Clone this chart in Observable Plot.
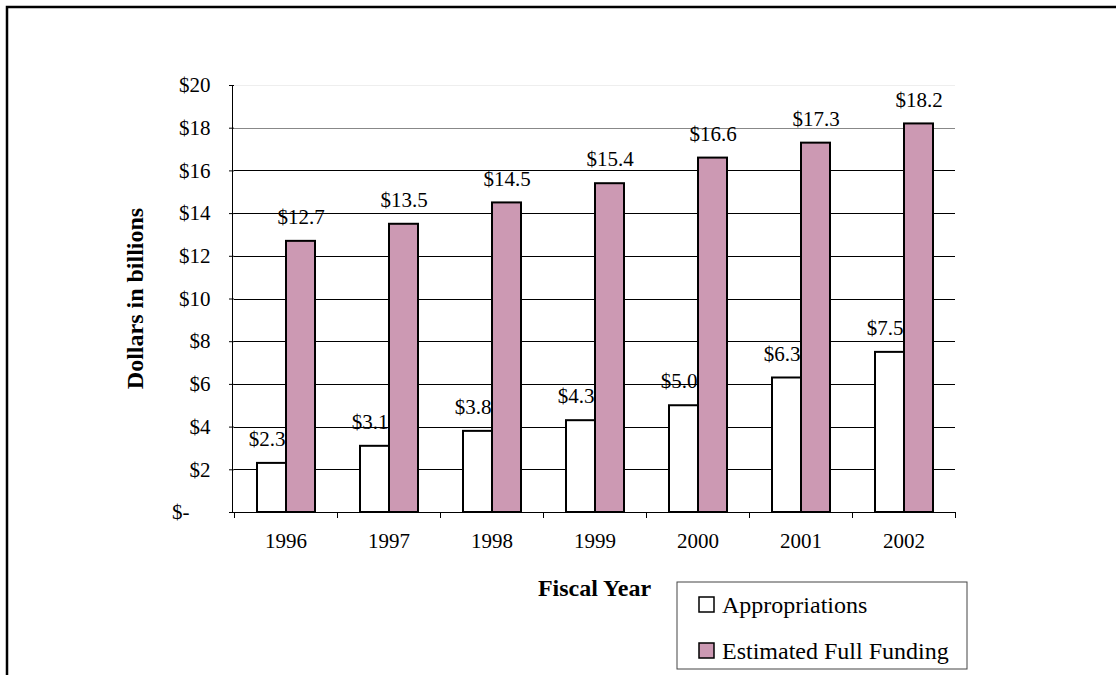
<!DOCTYPE html>
<html>
<head>
<meta charset="utf-8">
<script src="https://cdn.jsdelivr.net/npm/d3@7"></script>
<script src="https://cdn.jsdelivr.net/npm/@observablehq/plot@0.6"></script>
<style>
  html, body { margin: 0; padding: 0; background: white; }
  #chart { position: relative; width: 1116px; height: 675px; overflow: hidden; }
  #chart svg, #chart svg text { font-family: "Liberation Serif", "Times New Roman", serif; }
</style>
</head>
<body>
<div id="chart"></div>
<script>
const years = ["1996", "1997", "1998", "1999", "2000", "2001", "2002"];
const appropriations = [2.3, 3.1, 3.8, 4.3, 5.0, 6.3, 7.5];
const fullFunding = [12.7, 13.5, 14.5, 15.4, 16.6, 17.3, 18.2];
const seriesNames = ["Appropriations", "Estimated Full Funding"];
const seriesColors = ["white", "#cc99b3"];
const yTicks = [0, 2, 4, 6, 8, 10, 12, 14, 16, 18, 20];
const blackGrid = [2, 4, 6, 8, 10, 12, 14, 16];
const yTitle = "Dollars in billions";
const xTitle = "Fiscal Year";

const data = years.flatMap((yr, i) => [
  {year: yr, series: seriesNames[0], value: appropriations[i]},
  {year: yr, series: seriesNames[1], value: fullFunding[i]}
]);
const fmt = v => "$" + v.toFixed(1);
const nb = "\u00a0";
const serif = "Liberation Serif";

const plot = Plot.plot({
  width: 1116,
  height: 675,
  marginLeft: 232,
  marginRight: 159,
  marginTop: 85,
  marginBottom: 163,
  style: {fontFamily: serif, fontSize: "21px", color: "black", background: "transparent"},
  fx: {domain: years, padding: 0, axis: "bottom", tickSize: 0, tickPadding: 21, label: null},
  x: {domain: seriesNames, paddingInner: 0, paddingOuter: 0.755, axis: null},
  y: {domain: [0, 20], ticks: yTicks, tickSize: 5, tickPadding: 19, label: null,
      tickFormat: d => d === 0 ? "$-" + nb + nb + nb + nb : "$" + d},
  color: {domain: seriesNames, range: seriesColors},
  marks: [
    Plot.ruleY(blackGrid, {stroke: "black", strokeWidth: 1, shapeRendering: "crispEdges"}),
    Plot.ruleY([18], {stroke: "#888", strokeWidth: 1, shapeRendering: "crispEdges"}),
    Plot.ruleY([20], {stroke: "#eee", strokeWidth: 1, shapeRendering: "crispEdges"}),
    Plot.barY(data, {fx: "year", x: "series", y: "value", fill: "series", stroke: "black", strokeWidth: 2}),
    Plot.text(data.filter(d => d.series === seriesNames[0]), {fx: "year", x: "series", y: "value", text: d => fmt(d.value), dy: -24, dx: -5, fontSize: 21, fontFamily: serif}),
    Plot.text(data.filter(d => d.series === seriesNames[1]), {fx: "year", x: "series", y: "value", text: d => fmt(d.value), dy: -24, fontSize: 21, fontFamily: serif}),
    Plot.ruleY([0], {stroke: "black", strokeWidth: 1, shapeRendering: "crispEdges"})
  ]
});

document.getElementById("chart").appendChild(plot);

const svg = d3.select(plot);
const fxs = plot.scale("fx");
const ys = plot.scale("y");
const color = plot.scale("color");
const left = fxs.range[0];
const right = fxs.range[1];
const y0 = ys.apply(0);
const yTop = ys.apply(20);

// y axis line
svg.append("line").attr("x1", left).attr("x2", left).attr("y1", y0).attr("y2", yTop)
  .attr("stroke", "black").attr("stroke-width", 1).attr("shape-rendering", "crispEdges");

// category boundary ticks on x axis
const bounds = years.map(y => fxs.apply(y)).concat([fxs.apply(years[years.length - 1]) + fxs.bandwidth]);
svg.append("g").selectAll("line").data(bounds).join("line")
  .attr("x1", d => d).attr("x2", d => d).attr("y1", y0).attr("y2", y0 + 6)
  .attr("stroke", "black").attr("stroke-width", 1).attr("shape-rendering", "crispEdges");

// axis titles
svg.append("text")
  .attr("x", (left + right) / 2).attr("y", 596)
  .attr("text-anchor", "middle")
  .attr("font-weight", "bold").attr("font-size", 24)
  .text(xTitle);
svg.append("text")
  .attr("transform", `translate(143,${(y0 + yTop) / 2}) rotate(-90)`)
  .attr("text-anchor", "middle")
  .attr("font-weight", "bold").attr("font-size", 24)
  .text(yTitle);

// legend
const lg = svg.append("g");
lg.append("rect").attr("x", 677).attr("y", 582).attr("width", 290).attr("height", 87)
  .attr("fill", "white").attr("stroke", "#444").attr("stroke-width", 1);
seriesNames.forEach((name, i) => {
  const cy = 604.5 + i * 46;
  lg.append("rect").attr("x", 699).attr("y", cy - 7.5).attr("width", 15).attr("height", 15)
    .attr("fill", color.apply(name)).attr("stroke", "black").attr("stroke-width", 1.5);
  lg.append("text").attr("x", 722).attr("y", cy + 8)
    .attr("text-anchor", "start")
    .attr("font-size", 24)
    .text(name);
});

// outer border (top and left edges visible)
svg.append("path").attr("d", "M7,700 V7 H1130").attr("fill", "none")
  .attr("stroke", "black").attr("stroke-width", 2.5);
</script>
</body>
</html>
